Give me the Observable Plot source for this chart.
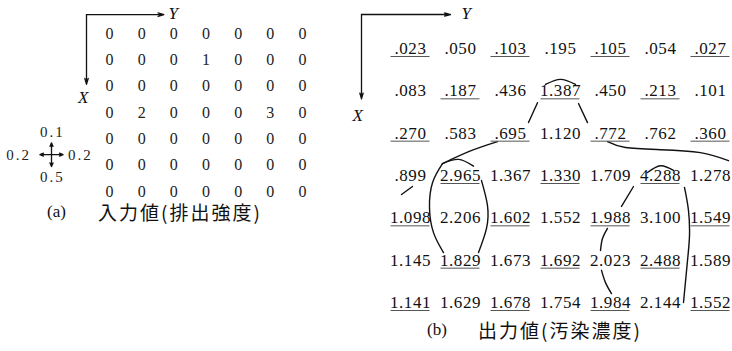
<!DOCTYPE html>
<html>
<head>
<meta charset="utf-8">
<script src="https://cdn.jsdelivr.net/npm/d3@7"></script>
<script src="https://cdn.jsdelivr.net/npm/@observablehq/plot@0.6"></script>
<style>
  body { margin: 0; background: #fff; }
  #fig { position: relative; width: 732px; height: 351px; overflow: hidden; background: #fff; }
  #fig svg { position: absolute; top: 0; }
  .cap { position: absolute; white-space: nowrap; color: #111; line-height: 1; }
  .cap span { display: inline-block; line-height: 1; vertical-align: top; }
  .cap .tag { font-family: "Liberation Serif", "DejaVu Serif", serif; font-size: 17px; width: 51px; padding-top: 1px; }
  .cap .cjk { font-family: "Noto Sans CJK JP", sans-serif; font-size: 19px; letter-spacing: 2px; }
</style>
</head>
<body>
<div id="fig"></div>
<script>
// ---- (a) emission strength per grid cell (row = X, column = Y)
const inputGrid = [
  [0, 0, 0, 0, 0, 0, 0],
  [0, 0, 0, 1, 0, 0, 0],
  [0, 0, 0, 0, 0, 0, 0],
  [0, 2, 0, 0, 0, 3, 0],
  [0, 0, 0, 0, 0, 0, 0],
  [0, 0, 0, 0, 0, 0, 0],
  [0, 0, 0, 0, 0, 0, 0]
];

// transfer coefficients to the four neighbouring cells
const spreadDirs = ["up", "left", "right", "down"];
const spreadValues = [0.1, 0.2, 0.2, 0.5];

// ---- (b) resulting pollution concentration per grid cell
const outputGrid = [
  [0.023, 0.050, 0.103, 0.195, 0.105, 0.054, 0.027],
  [0.083, 0.187, 0.436, 1.387, 0.450, 0.213, 0.101],
  [0.270, 0.583, 0.695, 1.120, 0.772, 0.762, 0.360],
  [0.899, 2.965, 1.367, 1.330, 1.709, 4.288, 1.278],
  [1.098, 2.206, 1.602, 1.552, 1.988, 3.100, 1.549],
  [1.145, 1.829, 1.673, 1.692, 2.023, 2.488, 1.589],
  [1.141, 1.629, 1.678, 1.754, 1.984, 2.144, 1.552]
];

// cells printed with an underline
const underlined = [
  [1, 0, 1, 0, 1, 0, 1],
  [0, 1, 0, 1, 0, 1, 0],
  [1, 0, 1, 0, 1, 0, 1],
  [0, 1, 0, 1, 0, 1, 0],
  [1, 0, 1, 0, 1, 0, 1],
  [0, 1, 0, 1, 0, 1, 0],
  [1, 0, 1, 0, 1, 0, 1]
];

// hand-drawn connectors between cells, in (column, row) grid units
const connectorPaths = [
  [[3.70, 1.85], [4.00, 1.73], [4.30, 1.85]],                               // arc over 1.387
  [[3.54, 2.28], [3.36, 2.75]],                                             // 1.387 -> .695
  [[4.36, 2.30], [4.54, 2.75]],                                             // 1.387 -> .772
  [[2.74, 3.20], [2.20, 3.42], [1.64, 3.72]],                               // .695 -> 2.965
  [[1.64, 3.72], [1.96, 3.62], [2.26, 3.78]],                               // arc over 2.965
  [[1.64, 3.72], [1.44, 4.17], [1.38, 4.76], [1.46, 5.35], [1.66, 5.82]],   // loop, left side
  [[2.42, 4.12], [2.54, 4.71], [2.52, 5.25], [2.36, 5.82]],                 // loop, right side
  [[1.04, 4.26], [0.82, 4.45]],                                             // stroke below .899
  [[4.94, 3.20], [5.30, 3.34], [6.00, 3.39], [6.80, 3.46], [7.36, 3.65]],   // .772 -> 1.278
  [[5.74, 3.93], [6.00, 3.77], [6.26, 3.88]],                               // arc over 4.288
  [[5.46, 4.26], [5.22, 4.73]],                                             // 4.288 -> 1.988
  [[4.94, 5.25], [4.84, 5.49], [4.80, 5.77]],                               // 1.988 -> 2.023
  [[4.82, 6.24], [4.90, 6.53], [5.02, 6.79]],                               // 2.023 -> 1.984
  [[6.48, 4.28], [6.56, 4.83], [6.58, 5.42], [6.54, 6.01], [6.46, 7.00]]    // 4.288 -> 1.552
];

// ---------------------------------------------------------------
const serif = "'Liberation Serif', 'DejaVu Serif', serif";
const toCells = (grid) =>
  grid.flatMap((row, i) => row.map((v, j) => ({ row: i + 1, col: j + 1, v })));

const fmt = d3.format(".3f");
const label = (v) => (v < 1 ? fmt(v).slice(1) : fmt(v));

const fig = document.getElementById("fig");

// ---------- panel (a)
{
  const cells = toCells(inputGrid);
  const origin = { x: 0.254, y: 0.283 };
  const axes = [
    { x1: origin.x, y1: origin.y, x2: 2.66, y2: origin.y },
    { x1: origin.x, y1: origin.y, x2: origin.x, y2: 2.93 }
  ];
  const axisLabels = [
    { x: 2.98, y: 0.25, t: "Y" },
    { x: 0.18, y: 3.42, t: "X" }
  ];
  const center = { x: -0.834, y: 5.60 };
  const arm = { up: [0, -0.45], down: [0, 0.45], left: [-0.36, 0], right: [0.36, 0] };
  const lab = { up: [0.03, -0.85], down: [0.03, 0.87], left: [-1.02, 0.02], right: [0.9, 0.02] };
  const spread = spreadDirs.map((d, i) => ({
    dir: d, value: spreadValues[i],
    x2: center.x + arm[d][0], y2: center.y + arm[d][1],
    lx: center.x + lab[d][0], ly: center.y + lab[d][1]
  }));

  const svg = Plot.plot({
    width: 340, height: 200, margin: 0,
    x: { type: "linear", domain: [1, 7], range: [110, 303], axis: null },
    y: { type: "linear", domain: [1, 7], range: [33, 191], axis: null },
    style: { background: "transparent", overflow: "visible", fontFamily: serif, letterSpacing: "2px" },
    marks: [
      Plot.arrow(axes, { x1: "x1", y1: "y1", x2: "x2", y2: "y2", stroke: "#111", strokeWidth: 1.3, headLength: 7, headAngle: 32 }),
      Plot.text(axisLabels, { x: "x", y: "y", text: "t", fontFamily: serif, fontStyle: "italic", fontSize: 17, fill: "#111" }),
      Plot.text(cells, { x: "col", y: "row", text: (d) => String(d.v), fontFamily: serif, fontSize: 16, fill: "#222" }),
      Plot.arrow(spread, { x1: () => center.x, y1: () => center.y, x2: "x2", y2: "y2", stroke: "#111", strokeWidth: 1.3, headLength: 4.5, headAngle: 45 }),
      Plot.text(spread, { x: "lx", y: "ly", text: (d) => String(d.value), fontFamily: serif, fontSize: 15, fill: "#222" })
    ]
  });
  svg.style.left = "0px";
  fig.appendChild(svg);
}

// ---------- panel (b)
{
  const cells = toCells(outputGrid).map((d) => ({ ...d, u: underlined[d.row - 1][d.col - 1] }));
  const origin = { x: 0.02, y: 0.197 };
  const axes = [
    { x1: origin.x, y1: origin.y, x2: 1.8, y2: origin.y },
    { x1: origin.x, y1: origin.y, x2: origin.x, y2: 2.19 }
  ];
  const axisLabels = [
    { x: 2.12, y: 0.18, t: "Y" },
    { x: -0.05, y: 2.58, t: "X" }
  ];
  const links = connectorPaths.flatMap((p, k) => p.map(([x, y]) => ({ k, x, y })));

  const svg = Plot.plot({
    width: 392, height: 316, margin: 0,
    x: { type: "linear", domain: [1, 7], range: [70, 370], axis: null },
    y: { type: "linear", domain: [1, 7], range: [48, 302], axis: null },
    style: { background: "transparent", overflow: "visible", fontFamily: serif, letterSpacing: "0.6px" },
    marks: [
      Plot.arrow(axes, { x1: "x1", y1: "y1", x2: "x2", y2: "y2", stroke: "#111", strokeWidth: 1.3, headLength: 7, headAngle: 32 }),
      Plot.text(axisLabels, { x: "x", y: "y", text: "t", fontFamily: serif, fontStyle: "italic", fontSize: 17, fill: "#111" }),
      Plot.line(links, { x: "x", y: "y", z: "k", curve: "natural", stroke: "#111", strokeWidth: 1.4 }),
      Plot.ruleY(cells.filter((d) => d.u), { y: "row", x1: (d) => d.col - 0.39, x2: (d) => d.col + 0.39, dy: 8, stroke: "#555", strokeWidth: 1 }),
      Plot.text(cells, { x: "col", y: "row", text: (d) => label(d.v), fontFamily: serif, fontSize: 17, fill: "#111" })
    ]
  });
  svg.style.left = "340px";
  fig.appendChild(svg);
}

// ---------- captions
const captions = [
  { tag: "(a)", text: "入力値(排出強度)", left: 47, top: 202 },
  { tag: "(b)", text: "出力値(汚染濃度)", left: 427, top: 320 }
];
for (const c of captions) {
  const div = document.createElement("div");
  div.className = "cap";
  div.style.left = c.left + "px";
  div.style.top = c.top + "px";
  div.innerHTML = `<span class="tag">${c.tag}</span><span class="cjk">${c.text}</span>`;
  fig.appendChild(div);
}
</script>
</body>
</html>
